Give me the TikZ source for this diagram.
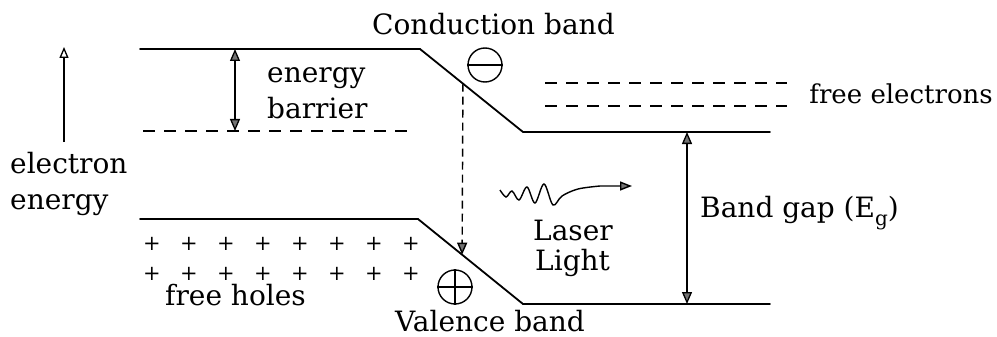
\documentclass[tikz,border=0pt]{standalone}
\usepackage{fontspec}
\setmainfont{DejaVu Serif}
\usetikzlibrary{arrows.meta,calc}
\begin{document}
\begin{tikzpicture}[x=1pt,y=-1pt,
  band/.style={line width=1.8pt,line cap=round},
  lvl/.style={line width=1.4pt,dash pattern=on 12pt off 9pt},
  tip/.style={Triangle[length=12pt,width=10pt,fill=black!55]},
  gaparrow/.style={line width=1.3pt,{Triangle[length=12pt,width=10pt,fill=black!55]}-{Triangle[length=12pt,width=10pt,fill=black!55]}},
  lbl/.style={inner sep=0pt,anchor=base west,font=\fontsize{28}{30}\selectfont},
  plus/.style={inner sep=0pt,font=\fontsize{21}{21}\selectfont},
  chg/.style={circle,draw,line width=1.4pt,minimum size=34pt,inner sep=0pt}]
\useasboundingbox (0,0) rectangle (997,337);
% band corners
\coordinate (c1) at (140,49);
\coordinate (c2) at (420,49);
\coordinate (c3) at (523,132);
\coordinate (c4) at (770,132);
\coordinate (v1) at (140,219);
\coordinate (v2) at (418,219);
\coordinate (v3) at (523,304);
\coordinate (v4) at (770,304);
\draw[band] (c1) -- (c2) -- (c3) -- (c4);
\draw[band] (v1) -- (v2) -- (v3) -- (v4);
% energy barrier level
\coordinate (b1) at (143,131);
\coordinate (b2) at (412,131);
\draw[lvl] (b1) -- (b2);
\coordinate (eb1) at (235,49);
\coordinate (eb2) at (235,131);
\draw[gaparrow] (eb1) -- (eb2);
% free electron levels
\coordinate (f1) at (545,83);
\coordinate (f2) at (787,83);
\coordinate (f3) at (545,106);
\coordinate (f4) at (787,106);
\draw[lvl] (f1) -- (f2);
\draw[lvl] (f3) -- (f4);
% electron energy axis
\coordinate (ea1) at (64,142);
\coordinate (ea2) at (64,47);
\draw[line width=1.3pt,-{Triangle[open,length=11pt,width=9pt,line width=1.3pt]}] (ea1) -- (ea2);
% band gap arrow
\coordinate (g1) at (687,132);
\coordinate (g2) at (687,304);
\draw[gaparrow] (g1) -- (g2);
% recombination (dashed) arrow
\coordinate (d1) at ($(c2)!0.417!(c3)$);
\coordinate (d2) at ($(v2)!0.42!(v3)$);
\draw[line width=1.4pt,dash pattern=on 8pt off 5pt,-{Triangle[length=12pt,width=10pt,fill=black!55]}] (d1) -- (d2);
% charges
\node[chg] (minus) at (485,65) {};
\draw[line width=1.4pt] (minus.west) -- (minus.east);
\node[chg] (pluscirc) at (455,287) {};
\draw[line width=1.4pt] (pluscirc.west) -- (pluscirc.east);
\draw[line width=1.4pt] (pluscirc.north) -- (pluscirc.south);
% holes
\foreach \i in {0,...,7}{
  \node[plus] (pa\i) at (152+37*\i,244) {+};
  \node[plus] (pb\i) at (152+37*\i,274) {+};
}
% laser light
\coordinate (w9) at (632,186);
\draw[line width=1.4pt,-{Triangle[length=12pt,width=9pt,fill=black!55]}] plot[smooth,tension=0.55] coordinates {(500,190) (506,197) (512,191) (519,200) (527,187) (535,203) (544,184) (553,205) (562,196) (578,189) (600,186)} -- (w9);
% labels
\node[lbl] (cb) at (372,35) {Conduction band};
\node[lbl] (en) at (267,83) {energy};
\node[lbl] (ba) at (267,118) {barrier};
\node[lbl,anchor=base east,font=\fontsize{26}{30}\selectfont] (fe) at (993,103) {free electrons};
\node[lbl] (el) at (10,173) {electron};
\node[lbl] (eg) at (10,209) {energy};
\node[lbl] (la) at (533,240) {Laser};
\node[lbl] (li) at (535,270) {Light};
\node[lbl] (bg) at (700,217) {Band gap (E\raisebox{-0.3em}{\fontsize{20}{20}\selectfont g})};
\node[lbl] (fh) at (165,305) {free holes};
\node[lbl] (vb) at (395,331) {Valence band};
\end{tikzpicture}
\end{document}
